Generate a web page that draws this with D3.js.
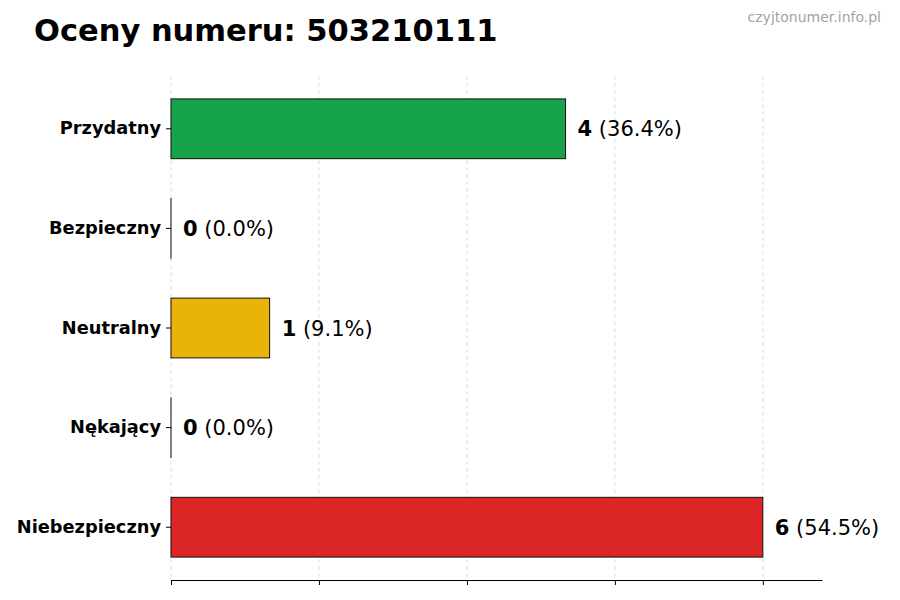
<!DOCTYPE html>
<html>
<head>
<meta charset="utf-8">
<title>Oceny numeru</title>
<script src="https://d3js.org/d3.v7.min.js"></script>
<style>
  body { margin: 0; background: #fff; }
  text { font-family: "DejaVu Sans", sans-serif; }
</style>
</head>
<body>
<script>
// data
var categories = ["Przydatny", "Bezpieczny", "Neutralny", "Nękający", "Niebezpieczny"];
var counts = [4, 0, 1, 0, 6];
var percents = ["36.4%", "0.0%", "9.1%", "0.0%", "54.5%"];
var colors = ["#16a34a", "#22c55e", "#eab308", "#f97316", "#dc2626"];
var xTicks = [0, 1.5, 3, 4.5, 6];

var width = 900, height = 600;
var plotLeft = 171, plotRight = 822, plotTop = 76, plotBottom = 580;

var svg = d3.select("body").append("svg")
    .attr("width", width)
    .attr("height", height);

var x = d3.scaleLinear().domain([0, 6.6]).range([plotLeft, plotRight]);
var y = d3.scaleBand().domain(categories).range([plotTop, plotBottom])
    .paddingInner(0.4).paddingOuter(0.23);

// grid
svg.append("g").selectAll("line")
    .data(xTicks)
    .enter().append("line")
    .attr("x1", d => x(d)).attr("x2", d => x(d))
    .attr("y1", plotTop).attr("y2", plotBottom)
    .attr("stroke", "#d4d4d4")
    .attr("stroke-width", 0.8)
    .attr("stroke-dasharray", "4,3");

// bars (zero-width ones still show their edge)
svg.append("g").selectAll("rect")
    .data(categories)
    .enter().append("rect")
    .attr("x", x(0))
    .attr("y", d => y(d))
    .attr("width", (d, i) => Math.max(x(counts[i]) - x(0), 0.01))
    .attr("height", y.bandwidth())
    .attr("fill", (d, i) => colors[i])
    .attr("stroke", "#111")
    .attr("stroke-width", 1);

// value labels
var lab = svg.append("g").selectAll("text")
    .data(categories)
    .enter().append("text")
    .attr("x", (d, i) => x(counts[i]) + 12)
    .attr("y", d => y(d) + y.bandwidth() / 2)
    .attr("dy", "0.36em")
    .attr("font-size", 21)
    .attr("fill", "#000");
lab.append("tspan").attr("font-weight", "bold").text((d, i) => counts[i]);
lab.append("tspan").text((d, i) => " (" + percents[i] + ")");

// x axis (no labels)
var xAxis = svg.append("g")
    .attr("transform", "translate(0," + plotBottom + ")")
    .call(d3.axisBottom(x).tickValues(xTicks).tickFormat("").tickSize(5).tickSizeOuter(0));
xAxis.select(".domain").attr("stroke", "#000").attr("stroke-width", 1);
xAxis.selectAll(".tick line").attr("stroke", "#000");

// y axis (no spine)
var yAxis = svg.append("g")
    .attr("transform", "translate(" + plotLeft + ",0)")
    .call(d3.axisLeft(y).tickSize(5).tickPadding(5));
yAxis.select(".domain").remove();
yAxis.selectAll(".tick line").attr("stroke", "#000");
yAxis.selectAll(".tick text")
    .attr("font-family", "DejaVu Sans")
    .attr("font-size", 17.8)
    .attr("font-weight", "bold")
    .attr("fill", "#000");

// title and watermark
svg.append("text")
    .attr("x", 34).attr("y", 41)
    .attr("font-size", 30.5)
    .attr("font-weight", "bold")
    .text("Oceny numeru: 503210111");

svg.append("text")
    .attr("x", 881).attr("y", 22)
    .attr("text-anchor", "end")
    .attr("font-size", 14)
    .attr("fill", "#a3a3a3")
    .text("czyjtonumer.info.pl");
</script>
</body>
</html>
